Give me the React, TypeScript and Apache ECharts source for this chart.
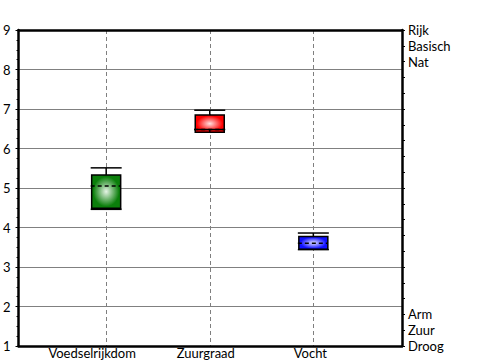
import React, { useEffect, useRef } from "react";
import * as echarts from "echarts";

const categories = ["Voedselrijkdom", "Zuurgraad", "Vocht"];
// [low whisker, Q1, median, Q3, high whisker]
const boxValues = [
  [4.46, 4.49, 5.05, 5.33, 5.51],
  [6.48, 6.41, 6.48, 6.85, 6.97],
  [3.44, 3.45, 3.6, 3.77, 3.86],
];
const leftTicks = [1, 2, 3, 4, 5, 6, 7, 8, 9];
const rightTickValues = [1, 1.4, 1.8, 8.2, 8.6, 9];
const rightTickLabels = ["Droog", "Zuur", "Arm", "Nat", "Basisch", "Rijk"];

const boxColors = [
  { edge: "#0b7f0b", center: "#e6f4e6" },
  { edge: "#ff0000", center: "#ffe0e0" },
  { edge: "#1010ff", center: "#e0e0ff" },
];

const FONT = "Lato, 'Open Sans', sans-serif";
const FS = 13;

export default function App() {
  const ref = useRef<HTMLDivElement>(null);
  useEffect(() => {
    if (!ref.current) return;
    const chart = echarts.init(ref.current, null, { renderer: "svg" });
    const data = boxValues.map((v, i) => [i + 1, ...v]);
    const option: any = {
      animation: false,
      backgroundColor: "#fff",
      grid: { left: 17, right: 98, top: 30, bottom: 14, containLabel: false },
      xAxis: [
        {
          type: "value",
          min: 0.154,
          max: 3.856,
          minInterval: 1,
          maxInterval: 1,
          position: "bottom",
          axisLine: { show: true, onZero: false, lineStyle: { color: "#000", width: 2.5 } },
          axisTick: { show: false },
          axisLabel: {
            show: true,
            margin: 0,
            color: "#000",
            fontFamily: FONT,
            fontSize: FS,
            showMinLabel: false,
            showMaxLabel: false,
            formatter: (v: number) => {
              const i = Math.round(v);
              return Math.abs(v - i) < 1e-6 && i >= 1 && i <= categories.length
                ? "{c" + i + "|" + categories[i - 1] + "}"
                : "";
            },
            rich: {
              c1: { fontFamily: FONT, fontSize: FS, color: "#000", padding: [0, 28, 0, 0] },
              c2: { fontFamily: FONT, fontSize: FS, color: "#000", padding: [0, 8, 0, 0] },
              c3: { fontFamily: FONT, fontSize: FS, color: "#000", padding: [0, 6, 0, 0] },
            },
          },
          splitLine: {
            show: true,
            lineStyle: { color: "#7f7f7f", type: [4, 3], width: 1 },
          },
        },
        {
          type: "value",
          min: 0.154,
          max: 3.856,
          position: "top",
          axisLine: { show: true, onZero: false, lineStyle: { color: "#000", width: 2.5 } },
          axisTick: { show: false },
          axisLabel: { show: false },
          splitLine: { show: false },
        },
      ],
      yAxis: [
        {
          type: "value",
          min: leftTicks[0],
          max: leftTicks[leftTicks.length - 1],
          interval: 1,
          position: "left",
          axisLine: { show: true, onZero: false, lineStyle: { color: "#000", width: 2.5 } },
          axisTick: { show: true, length: 3, lineStyle: { color: "#000" } },
          minorTick: { show: true, splitNumber: 4, length: 2, lineStyle: { color: "#000" } },
          axisLabel: {
            margin: 8,
            color: "#000",
            fontFamily: FONT,
            fontSize: FS,
          },
          splitLine: { show: true, lineStyle: { color: "#808080", width: 1 } },
        },
        {
          type: "value",
          min: 1,
          max: 9,
          interval: 0.4,
          position: "right",
          axisLine: { show: true, onZero: false, lineStyle: { color: "#000", width: 2.5 } },
          axisTick: { show: true, length: 3, lineStyle: { color: "#000" } },
          axisLabel: {
            margin: 6,
            color: "#000",
            fontFamily: FONT,
            fontSize: FS,
            formatter: (v: number) => {
              const idx = rightTickValues.findIndex((t) => Math.abs(t - v) < 1e-6);
              return idx >= 0 ? rightTickLabels[idx] : "";
            },
          },
          splitLine: { show: false },
        },
      ],
      series: [
        {
          type: "custom",
          xAxisIndex: 0,
          yAxisIndex: 0,
          data,
          renderItem: (params: any, api: any) => {
            const xi = api.value(0);
            const low = api.value(1);
            const q1 = api.value(2);
            const med = api.value(3);
            const q3 = api.value(4);
            const high = api.value(5);
            const pHigh = api.coord([xi, high]);
            const pQ3 = api.coord([xi, q3]);
            const pMed = api.coord([xi, med]);
            const pQ1 = api.coord([xi, q1]);
            const pLow = api.coord([xi, low]);
            const cx = pHigh[0];
            const bw = 14.5;
            const cw = 15.5;
            const col = boxColors[params.dataIndex];
            const stroke = { stroke: "#000", lineWidth: 1.5 };
            const top = Math.min(pQ3[1], pQ1[1]);
            const h = Math.abs(pQ1[1] - pQ3[1]);
            return {
              type: "group",
              children: [
                {
                  type: "line",
                  shape: { x1: cx, y1: pHigh[1], x2: cx, y2: pQ3[1] },
                  style: stroke,
                },
                {
                  type: "line",
                  shape: { x1: cx - cw, y1: pHigh[1], x2: cx + cw, y2: pHigh[1] },
                  style: stroke,
                },
                {
                  type: "rect",
                  shape: { x: cx - bw, y: top, width: bw * 2, height: h },
                  style: {
                    fill: new echarts.graphic.RadialGradient(0.5, 0.5, 0.6, [
                      { offset: 0, color: col.center },
                      { offset: 0.75, color: col.edge },
                      { offset: 1, color: col.edge },
                    ]),
                    stroke: "#000",
                    lineWidth: 1.5,
                  },
                },
                {
                  type: "line",
                  shape: { x1: cx, y1: pQ1[1], x2: cx, y2: pLow[1] },
                  style: stroke,
                },
                {
                  type: "line",
                  shape: { x1: cx - cw, y1: pLow[1], x2: cx + cw, y2: pLow[1] },
                  style: stroke,
                },
                {
                  type: "line",
                  shape: { x1: cx - cw, y1: pMed[1], x2: cx + bw, y2: pMed[1] },
                  style: { stroke: "#000", lineWidth: 1.5, lineDash: [4, 3] },
                },
              ],
            };
          },
        },
      ],
    };
    chart.setOption(option);
    return () => chart.dispose();
  }, []);
  return (
    <div
      ref={ref}
      style={{ position: "fixed", left: 0, top: 0, width: 500, height: 360 }}
    />
  );
}
